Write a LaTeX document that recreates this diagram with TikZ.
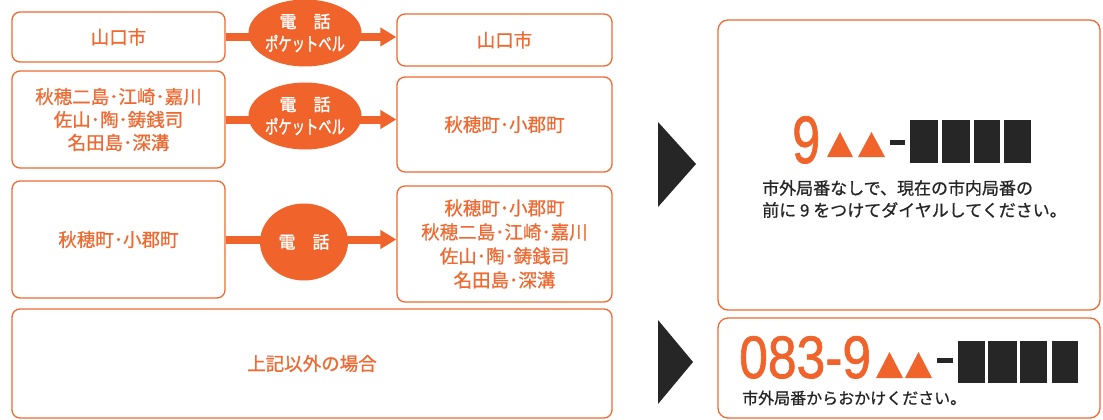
\documentclass[tikz,border=0pt]{standalone}
\usepackage{graphicx}
\usepackage{fontspec}
\setmainfont{Liberation Sans}
\newfontfamily\numf[FakeBold=1.2]{Liberation Sans}
\newfontfamily\jp[FakeBold=0.8]{Noto Sans CJK JP}
\newfontfamily\jpb[FakeBold=1.6]{Noto Sans CJK JP}
\usetikzlibrary{arrows.meta,shapes.geometric}
\definecolor{org}{HTML}{EE6A32}
\definecolor{orgfill}{HTML}{F0632A}
\definecolor{ink}{HTML}{262626}
\begin{document}
\begin{tikzpicture}[x=1pt,y=-1pt,
  box/.style={draw=org,line width=1.3pt,rounded corners=8pt,text=org,
    font=\jp\fontsize{18.5}{24}\selectfont,align=center,inner sep=0pt},
  rbox/.style={draw=org,line width=1.3pt,rounded corners=10pt,inner sep=0pt},
  badge/.style={ellipse,fill=orgfill,text=white,inner sep=0pt,align=center,
    font=\jpb\fontsize{17}{24}\selectfont},
  conn/.style={draw=orgfill,line width=8pt,-{Triangle[length=16pt,width=18pt]}},
  note/.style={anchor=west,inner sep=0pt,text=ink,font=\jp\fontsize{17}{22}\selectfont},
  big/.style={inner sep=0pt,text=orgfill,anchor=base west},
]
\useasboundingbox (0,0) rectangle (1103,420);
\fill[white] (0,0) rectangle (1103,420);

% left column boxes
\node[box,minimum width=213pt,minimum height=50pt] (a1) at (118.5,37) {山口市};
\node[box,minimum width=215pt,minimum height=52pt] (b1) at (504.5,40) {山口市};
\node[box,minimum width=213pt,minimum height=97pt] (a2) at (118.5,119.5)
  {秋穂二島･江崎･嘉川\\[-1pt]佐山･陶･鋳銭司\\[-1pt]名田島･深溝};
\node[box,minimum width=215pt,minimum height=95pt] (b2) at (504.5,124.5) {秋穂町･小郡町};
\node[box,minimum width=213pt,minimum height=117pt] (a3) at (118.5,239.5) {秋穂町･小郡町};
\node[box,minimum width=215pt,minimum height=116pt] (b3) at (504.5,244)
  {秋穂町･小郡町\\秋穂二島･江崎･嘉川\\佐山･陶･鋳銭司\\名田島･深溝};
\node[box,minimum width=600pt,minimum height=109pt] (a4) at (312,363.5) {上記以外の場合};

% connectors
\draw[conn] (a1.east) -- (a1.east -| b1.west);
\draw[conn] (a2.east) -- (a2.east -| b2.west);
\draw[conn] (a3.east) -- (a3.east -| b3.west);

% badges
\node[badge,minimum width=88pt,minimum height=67pt] (c1) at (305,33)
  {電\hspace{1em}話\\[-1pt]{\fontsize{18}{24}\selectfont\scalebox{0.74}[1.05]{ポケットベル}}};
\node[badge,minimum width=88pt,minimum height=67pt] (c2) at (305,116)
  {電\hspace{1em}話\\[-1pt]{\fontsize{18}{24}\selectfont\scalebox{0.74}[1.05]{ポケットベル}}};
\node[badge,minimum width=88pt,minimum height=77pt] (c3) at (304,242)
  {電\hspace{1em}話};

% big black pointers
\fill[ink] (658,122) -- (696,164) -- (658,207) -- cycle;
\fill[ink] (658,320) -- (693,362) -- (658,404) -- cycle;

% result boxes
\node[rbox,minimum width=382pt,minimum height=290pt] (r1) at (909,165) {};
\node[rbox,minimum width=382pt,minimum height=100pt] (r2) at (909,368) {};

% number pattern 1
\node[big,font=\numf\fontsize{67}{67}\selectfont] (n1) at (792,163) {\scalebox{0.75}[1]{9}};
\fill[orgfill] (827,157) -- (840,132) -- (853,157) -- cycle;
\fill[orgfill] (858,157) -- (871.5,132) -- (885,157) -- cycle;
\fill[ink] (890,140) rectangle (905,145);
\foreach \x/\w in {910/28,942/28,974/26,1004/27}
  \fill[ink] (\x,120) rectangle ++(\w,43);
\node[note] (t1) at (762,188) {市外局番なしで、現在の市内局番の};
\node[note] (t2) at (762,210) {前に 9 をつけてダイヤルしてください。};

% number pattern 2
\node[big,font=\numf\fontsize{60}{60}\selectfont] (n2) at (739,378) {\scalebox{0.86}[1]{083-9}};
\fill[orgfill] (876,378) -- (889.5,352) -- (903,378) -- cycle;
\fill[orgfill] (905,378) -- (918.5,352) -- (932,378) -- cycle;
\fill[ink] (937,358) rectangle (953,363);
\foreach \x/\w in {958/27,988/29,1020/27,1052/26}
  \fill[ink] (\x,341) rectangle ++(\w,42);
\node[note,font=\jp\fontsize{16}{20}\selectfont] (t3) at (742,398) {市外局番からおかけください。};
\end{tikzpicture}
\end{document}
